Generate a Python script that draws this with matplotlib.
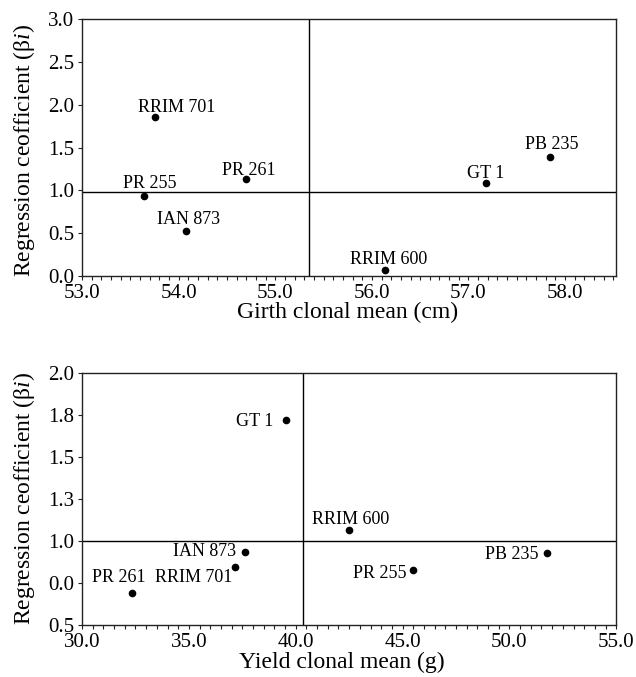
import matplotlib
matplotlib.use("Agg")
import matplotlib.pyplot as plt
from matplotlib.ticker import MultipleLocator, FixedLocator

plt.rcParams['font.family'] = ['Liberation Serif', 'DejaVu Serif']
plt.rcParams['mathtext.fontset'] = 'custom'
plt.rcParams['mathtext.rm'] = 'Liberation Serif'
plt.rcParams['mathtext.it'] = 'Liberation Serif:italic'

# ---- data: top panel (girth) ----
girth_clones = ["RRIM 701", "PR 261", "PR 255", "IAN 873", "GT 1", "PB 235", "RRIM 600"]
girth_mean = [53.76, 54.70, 53.64, 54.08, 57.18, 57.84, 56.14]
girth_beta = [1.86, 1.13, 0.93, 0.53, 1.09, 1.39, 0.075]
girth_ref_x = 55.35
girth_ref_y = 0.98

# ---- data: bottom panel (yield) ----
yield_clones = ["GT 1", "IAN 873", "RRIM 701", "PR 261", "RRIM 600", "PR 255", "PB 235"]
yield_mean = [39.54, 37.64, 37.17, 32.32, 42.49, 45.47, 51.75]
yield_beta = [1.72, 0.933, 0.845, 0.689, 1.067, 0.829, 0.929]
yield_ref_x = 40.35
yield_ref_y = 1.0

top_yticks = [0.0, 0.5, 1.0, 1.5, 2.0, 2.5, 3.0]
top_ytick_labels = ["0.0", "0.5", "1.0", "1.5", "2.0", "2.5", "3.0"]
top_xticks = [53.0, 54.0, 55.0, 56.0, 57.0, 58.0]
bot_yticks = [0.5, 0.75, 1.0, 1.25, 1.5, 1.75, 2.0]
bot_ytick_labels = ["0.5", "0.0", "1.0", "1.3", "1.5", "1.8", "2.0"]
bot_xticks = [30.0, 35.0, 40.0, 45.0, 50.0, 55.0]

# label offsets (pixels) and alignment
top_offsets = {"RRIM 701": (21, 4.5, 'center'), "PR 261": (3, 4, 'center'),
               "PR 255": (6, 8, 'center'), "IAN 873": (2, 7, 'center'),
               "GT 1": (0, 5, 'center'), "PB 235": (2, 8, 'center'),
               "RRIM 600": (3, 6, 'center')}
bot_offsets = {"GT 1": (-12.5, -6.3, 'right'), "IAN 873": (-9, -3.7, 'right'),
               "RRIM 701": (-2.5, -14.7, 'right'), "PR 261": (-13, 11.3, 'center'),
               "RRIM 600": (2, 5.4, 'center'), "PR 255": (-6, -8.6, 'right'),
               "PB 235": (-8, -6.3, 'right')}

fig = plt.figure(figsize=(6.36, 6.77), dpi=100)
ax1 = fig.add_axes([0.129, 0.5923, 0.840, 0.3796])
ax2 = fig.add_axes([0.129, 0.0768, 0.840, 0.3727])

ylab = r"Regression ceofficient (β$\mathit{i}$)"


def style(ax):
    for s in ax.spines.values():
        s.set_linewidth(1.0)
        s.set_color('#222222')
    ax.tick_params(which='both', direction='out', length=2.8, width=0.8,
                   labelsize=15, pad=3, color='#222222')


# top panel
ax1.plot(girth_mean, girth_beta, 'o', color='black', markersize=4.5, zorder=3)
ax1.axvline(girth_ref_x, color='black', lw=1.0)
ax1.axhline(girth_ref_y, color='black', lw=1.0)
ax1.set_xlim(53.0, 58.53)
ax1.set_ylim(0.0, 3.0)
ax1.set_yticks(top_yticks)
ax1.set_yticklabels(top_ytick_labels)
ax1.set_xticks(top_xticks)
ax1.set_xticklabels([f"{v:.1f}" for v in top_xticks])
ax1.xaxis.set_minor_locator(MultipleLocator(0.1))
style(ax1)
for name, x, y in zip(girth_clones, girth_mean, girth_beta):
    dx, dy, ha = top_offsets[name]
    ax1.annotate(name, (x, y), xytext=(dx, dy), textcoords='offset pixels',
                 ha=ha, va='baseline', fontsize=13)
ax1.set_xlabel("Girth clonal mean (cm)", fontsize=17)
ax1.set_ylabel(ylab, fontsize=17)
ax1.xaxis.set_label_coords(0.497, -0.101)
ax1.yaxis.set_label_coords(-0.085, 0.49)

# bottom panel
ax2.plot(yield_mean, yield_beta, 'o', color='black', markersize=4.5, zorder=3)
ax2.axvline(yield_ref_x, color='black', lw=1.0)
ax2.axhline(yield_ref_y, color='black', lw=1.0)
ax2.set_xlim(30.0, 55.0)
ax2.set_ylim(0.5, 2.0)
ax2.yaxis.set_major_locator(FixedLocator(bot_yticks))
ax2.set_yticklabels(bot_ytick_labels)
ax2.set_xticks(bot_xticks)
ax2.set_xticklabels([f"{v:.1f}" for v in bot_xticks])
ax2.xaxis.set_minor_locator(MultipleLocator(0.5))
style(ax2)
for name, x, y in zip(yield_clones, yield_mean, yield_beta):
    dx, dy, ha = bot_offsets[name]
    ax2.annotate(name, (x, y), xytext=(dx, dy), textcoords='offset pixels',
                 ha=ha, va='baseline', fontsize=13)
ax2.set_xlabel("Yield clonal mean (g)", fontsize=17)
ax2.set_ylabel(ylab, fontsize=17)
ax2.xaxis.set_label_coords(0.487, -0.105)
ax2.yaxis.set_label_coords(-0.085, 0.502)

fig.savefig("out.png", dpi=100)
